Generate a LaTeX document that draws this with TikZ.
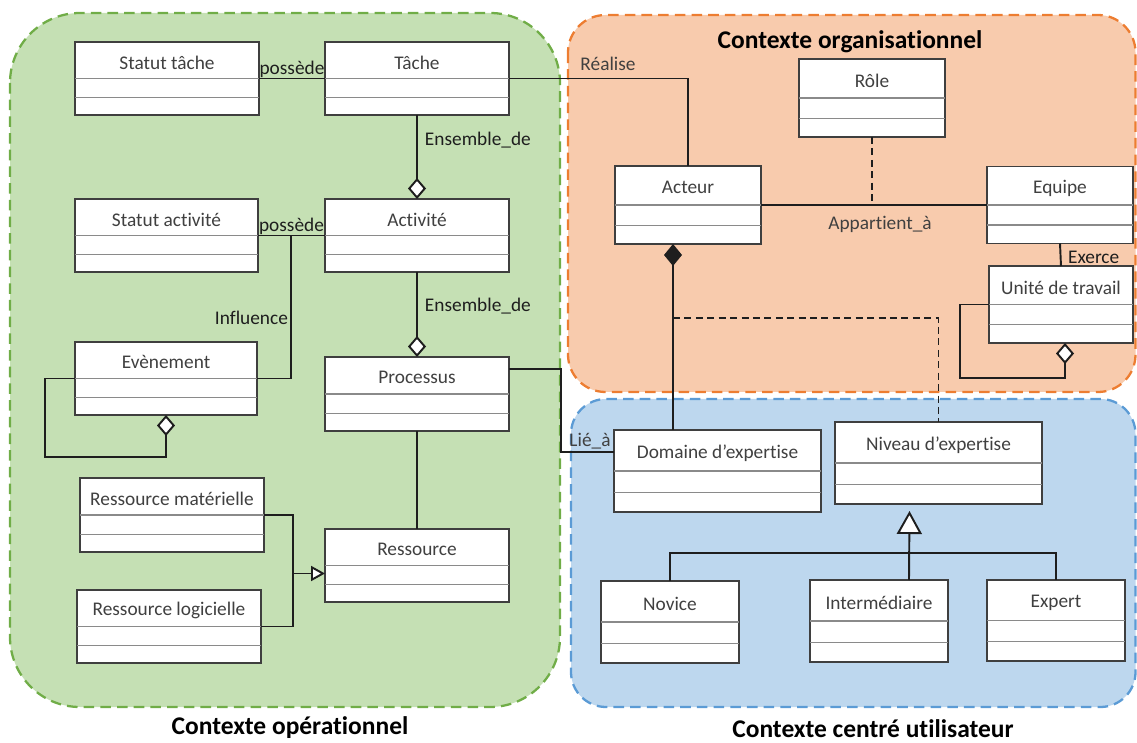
\documentclass[tikz,border=0pt]{standalone}
\usepackage{fontspec}
\setmainfont{Carlito}[Ligatures={NoCommon, NoRare}]
\usetikzlibrary{arrows.meta, positioning, calc}
\definecolor{opgreen}{HTML}{C5E0B4}
\definecolor{opgreenline}{HTML}{70AD47}
\definecolor{orgpeach}{HTML}{F8CBAD}
\definecolor{orgpeachline}{HTML}{ED7D31}
\definecolor{usrblue}{HTML}{BDD7EE}
\definecolor{usrblueline}{HTML}{5B9BD5}
\definecolor{boxline}{HTML}{3F3F3F}
\definecolor{sepline}{HTML}{8A8A8A}
\definecolor{lnk}{HTML}{1E1E1E}
\definecolor{txtgray}{HTML}{404040}

% UML class: name, x, y, width, height (pixels), class name
\newcommand{\umlclass}[6]{%
  \node[umlbox, minimum width=#4*0.02cm, minimum height=#5*0.02cm] (#1) at (#2,#3) {};
  \draw[sepline, line width=0.7pt]
    ($(#1.north west)!0.5!(#1.south west)$) -- ($(#1.north east)!0.5!(#1.south east)$);
  \draw[sepline, line width=0.7pt]
    ($(#1.north west)!0.76!(#1.south west)$) -- ($(#1.north east)!0.76!(#1.south east)$);
  \node[umlname] (#1-name) at ($(#1.north)!0.28!(#1.south)$) {#6};
}

\begin{document}
\begin{tikzpicture}[
    x=0.02cm, y=-0.02cm,
    every node/.style={text=lnk, font=\fontsize{11}{13}\selectfont},
    umlbox/.style={draw=boxline, fill=white, line width=0.85pt, inner sep=0pt, outer sep=0pt},
    umlname/.style={text=txtgray, inner sep=0pt},
    assoc/.style={draw=lnk, line width=1.1pt},
    dashlink/.style={assoc, dash pattern=on 4pt off 2.5pt},
    aggreg/.style={assoc, -{Diamond[fill=white, length=4.2mm, width=3.6mm]}},
    compos/.style={assoc, {Diamond[length=4.4mm, width=3.6mm]}-},
    genlz/.style={assoc, -{Triangle[fill=white, length=2.8mm, width=3mm]}},
    genbig/.style={assoc, -{Triangle[fill=white, length=4.6mm, width=5mm]}},
    linklbl/.style={inner sep=1pt},
    ctxtitle/.style={text=black, font=\bfseries\fontsize{14.5}{17}\selectfont},
    region/.style={dash pattern=on 6pt off 3.5pt, line width=1.3pt},
  ]
  \useasboundingbox (0,0) rectangle (1137,743);

  % === Context regions ===
  \filldraw[region, fill=opgreen, draw=opgreenline, rounded corners=1.4cm]
    (10,13) rectangle (560,707);
  \filldraw[region, fill=orgpeach, draw=orgpeachline, rounded corners=0.75cm]
    (568,15) rectangle (1135.5,392);
  \filldraw[region, fill=usrblue, draw=usrblueline, rounded corners=0.7cm]
    (571,399) rectangle (1135.5,707);

  \node[ctxtitle] (ttlorg) at (850,42) {Contexte organisationnel};
  \node[ctxtitle] (ttlop) at (290,728) {Contexte opérationnel};
  \node[ctxtitle] (ttlusr) at (873,729) {Contexte centré utilisateur};

  % === Contexte opérationnel ===
  \umlclass{sttache}{167}{78.5}{184}{73}{Statut tâche}
  \umlclass{tache}{417}{78.5}{184}{73}{Tâche}
  \umlclass{stact}{166.5}{235.5}{183}{73}{Statut activité}
  \umlclass{activite}{417}{235.5}{184}{73}{Activité}
  \umlclass{evenement}{166}{378.5}{182}{73}{Evènement}
  \umlclass{processus}{417}{394}{184}{74}{Processus}
  \umlclass{rmat}{172}{515}{184}{74}{Ressource matérielle}
  \umlclass{rlog}{169}{626.5}{184}{73}{Ressource logicielle}
  \umlclass{ressource}{417}{565.5}{184}{73}{Ressource}

  % === Contexte organisationnel ===
  \umlclass{acteur}{688}{205}{146}{78}{Acteur}
  \umlclass{role}{872}{98}{146}{78}{Rôle}
  \umlclass{equipe}{1060}{205}{146}{77}{Equipe}
  \umlclass{unite}{1061}{304.5}{144}{77}{Unité de travail}

  % === Contexte centré utilisateur ===
  \umlclass{domaine}{717.5}{471}{207}{82}{Domaine d’expertise}
  \umlclass{niveau}{938.5}{463}{207}{82}{Niveau d’expertise}
  \umlclass{novice}{670}{622}{138}{82}{Novice}
  \umlclass{inter}{879}{621}{138}{82}{Intermédiaire}
  \umlclass{expert}{1056}{620.5}{138}{81}{Expert}

  % === Links, operational side ===
  \draw[assoc] (sttache.east) -- node[linklbl, above=-1pt] (lblposs1) {possède} (tache.west);
  \draw[aggreg] (tache.south) -- node[linklbl, pos=0.3, right=3pt] (lblens1) {Ensemble\_de} (activite.north);
  \draw[assoc] (stact.east) -- node[linklbl, above=-1pt] (lblposs2) {possède} (activite.west);
  \draw[aggreg] (activite.south) -- node[linklbl, pos=0.4, right=3pt] (lblens2) {Ensemble\_de} (processus.north);
  \draw[assoc] (processus.south) -- (ressource.north);

  % Influence
  \draw[assoc] ($(stact.east)+(33,0)$) |- (evenement.east);
  \node[linklbl, anchor=east] (lblinfl) at (290,318) {Influence};

  % Evènement on itself
  \draw[aggreg] (evenement.west) -- ++(-30,0) |- ($(evenement.south)+(0,42)$) -- (evenement.south);

  % resources
  \draw[assoc] (rmat.east) -| ($(rlog.east)+(32,0)$) -- (rlog.east);
  \draw[genlz] ($(ressource.west)+(-32,8)$) -- ($(ressource.west)+(0,8)$);

  % === Links across contexts ===
  \draw[assoc] (tache.east) -| (acteur.north);
  \node[linklbl, text=txtgray] (lblreal) at (608,64) {Réalise};

  \draw[assoc] ($(processus.north east)+(0,12)$) -- ++(52,0) |- ($(domaine.north west)+(0,22)$);
  \node[linklbl, text=txtgray] (lblliea) at (590,441) {Lié\_à};

  % === Links, organisational side ===
  \draw[assoc] (acteur.east) -- (equipe.west);
  \draw[dashlink] (role.south) -- (role.south |- acteur.east);
  \node[linklbl, text=txtgray] (lblapp) at (880,224) {Appartient\_à};

  \draw[assoc] (equipe.south) -- (unite.north);
  \node[linklbl, anchor=west] (lblexer) at (1066,257) {Exerce};

  % Unité de travail on itself
  \draw[aggreg] (unite.west) -- ++(-29,0) |- ($(unite.south)+(4,35)$) -- ($(unite.south)+(4,0)$);

  % Acteur / Domaine d'expertise
  \coordinate (actfoot) at ($(acteur.south)+(-15,0)$);
  \coordinate (domtop) at (actfoot |- domaine.north);
  \draw[compos] (actfoot) -- (domtop);
  \draw[dashlink] ($(actfoot)!0.4!(domtop)$) -| (niveau.north);

  % === Levels of expertise ===
  \coordinate (gentip) at ($(niveau.south)+(-29,7)$);
  \draw[genbig] ($(inter.north)+(30,0)$) -- (gentip);
  \draw[assoc] (novice.north) -- ++(0,-28) -| (expert.north);

\end{tikzpicture}
\end{document}
